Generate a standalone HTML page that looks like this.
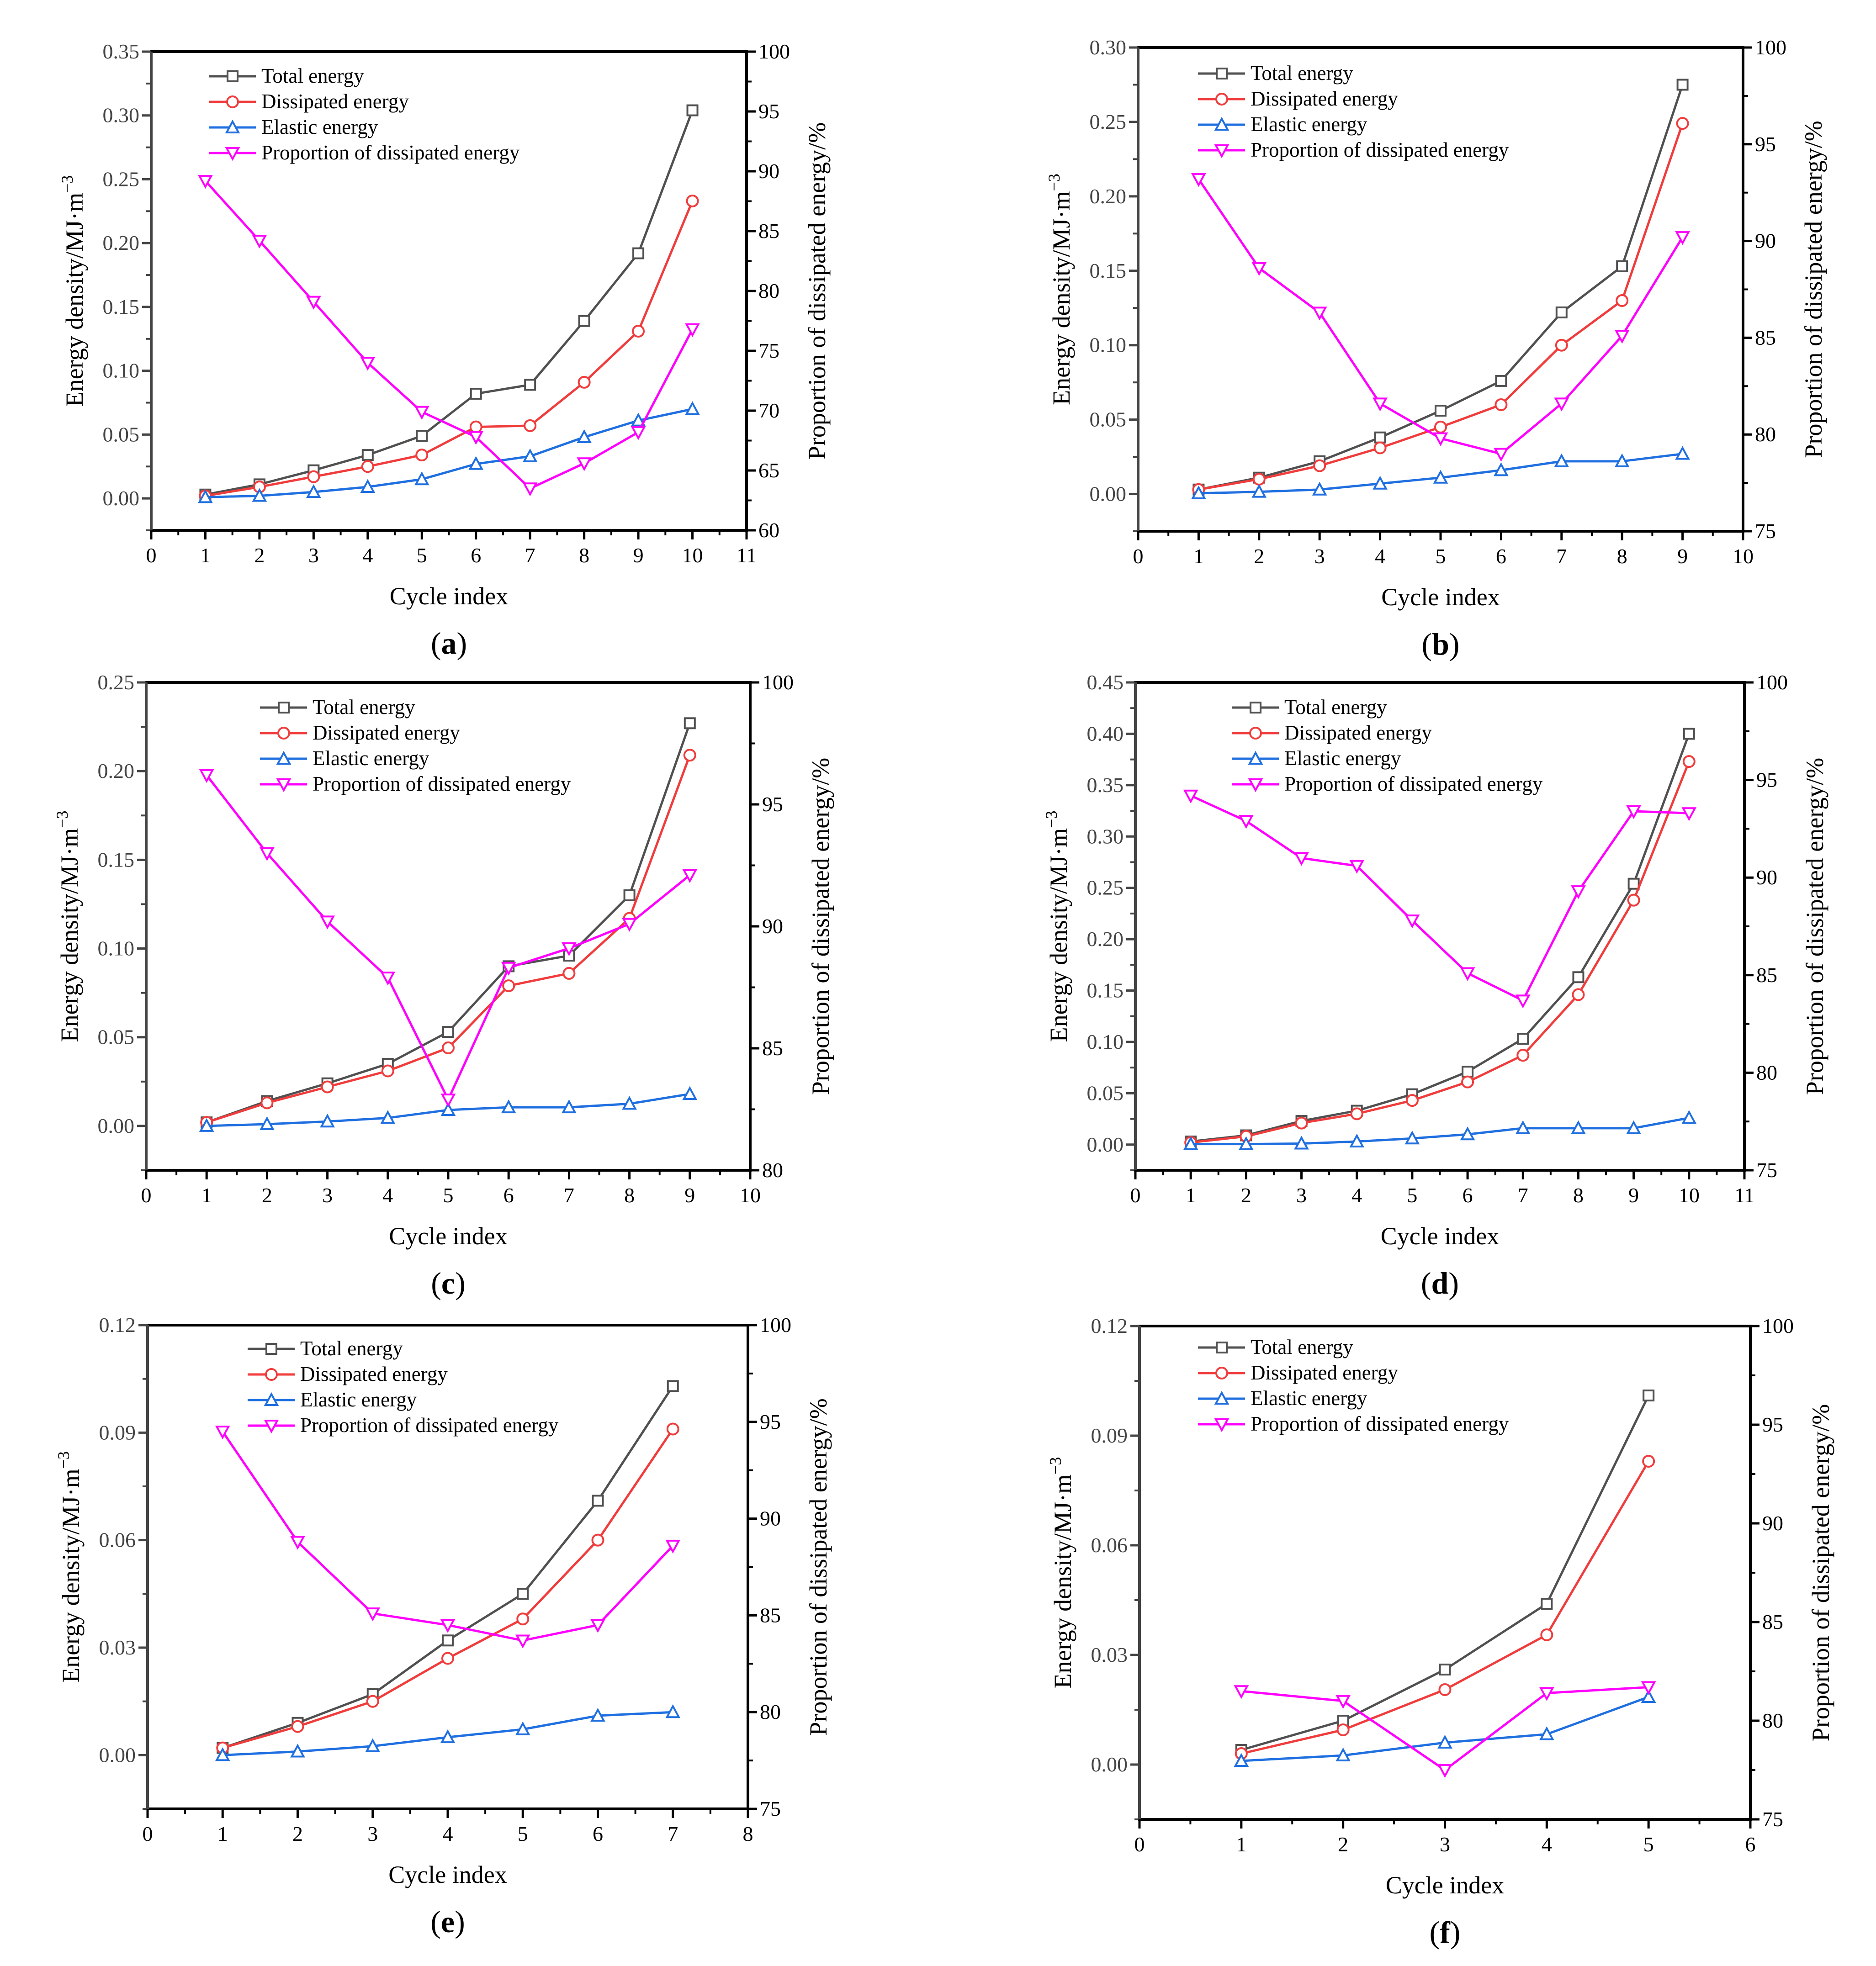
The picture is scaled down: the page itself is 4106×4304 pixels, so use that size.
<!DOCTYPE html>
<html><head><meta charset="utf-8">
<style>
html,body{margin:0;padding:0;background:#fff;}
svg{display:block;}
text,tspan{font-family:"Liberation Serif",serif;}
</style></head>
<body>
<svg id="fig" width="4106" height="4304" viewBox="0 0 4106 4304" xmlns="http://www.w3.org/2000/svg" font-family="Liberation Serif, serif"></svg>
<script>
// ---- data (panel a) ----
const cyclesA = [1,2,3,4,5,6,7,8,9,10];
const totalA = [0.003,0.011,0.022,0.034,0.049,0.082,0.089,0.139,0.192,0.304];
const dissA = [0.002,0.009,0.017,0.025,0.034,0.056,0.057,0.091,0.131,0.233];
const elasA = [0.001,0.002,0.005,0.009,0.015,0.027,0.033,0.048,0.061,0.070];
const propA = [89.2,84.2,79.1,74.0,69.9,67.8,63.5,65.6,68.2,76.8];
const yTicksA = ['0.00','0.05','0.10','0.15','0.20','0.25','0.30','0.35'];
const rTicksA = ['60','65','70','75','80','85','90','95','100'];
// ---- panel b ----
const cyclesB = [1,2,3,4,5,6,7,8,9];
const totalB = [0.003,0.011,0.022,0.038,0.056,0.076,0.122,0.153,0.275];
const dissB = [0.003,0.010,0.019,0.031,0.045,0.060,0.100,0.130,0.249];
const elasB = [0.0005,0.0015,0.003,0.007,0.011,0.016,0.022,0.022,0.027];
const propB = [93.2,88.6,86.3,81.6,79.8,79.0,81.6,85.1,90.2];
const yTicksB = ['0.00','0.05','0.10','0.15','0.20','0.25','0.30'];
const rTicksB = ['75','80','85','90','95','100'];
// ---- panel c ----
const cyclesC = [1,2,3,4,5,6,7,8,9];
const totalC = [0.002,0.014,0.024,0.035,0.053,0.090,0.096,0.130,0.227];
const dissC = [0.002,0.013,0.022,0.031,0.044,0.079,0.086,0.117,0.209];
const elasC = [0.0,0.001,0.0025,0.0045,0.009,0.0105,0.0105,0.0125,0.018];
const propC = [96.2,93.0,90.2,87.9,82.9,88.3,89.1,90.1,92.1];
const yTicksC = ['0.00','0.05','0.10','0.15','0.20','0.25'];
const rTicksC = ['80','85','90','95','100'];
// ---- panel d ----
const cyclesD = [1,2,3,4,5,6,7,8,9,10];
const totalD = [0.003,0.009,0.023,0.033,0.049,0.071,0.103,0.163,0.254,0.400];
const dissD = [0.002,0.008,0.021,0.030,0.043,0.061,0.087,0.146,0.238,0.373];
const elasD = [0.0005,0.0005,0.001,0.003,0.006,0.010,0.016,0.016,0.016,0.026];
const propD = [94.2,92.9,91.0,90.6,87.8,85.1,83.7,89.3,93.4,93.3];
const yTicksD = ['0.00','0.05','0.10','0.15','0.20','0.25','0.30','0.35','0.40','0.45'];
const rTicksD = ['75','80','85','90','95','100'];
// ---- panel e ----
const cyclesE = [1,2,3,4,5,6,7];
const totalE = [0.002,0.009,0.017,0.032,0.045,0.071,0.103];
const dissE = [0.002,0.008,0.015,0.027,0.038,0.060,0.091];
const elasE = [0.0,0.001,0.0025,0.005,0.0072,0.011,0.012];
const propE = [94.5,88.8,85.1,84.5,83.7,84.5,88.6];
const yTicksE = ['0.00','0.03','0.06','0.09','0.12'];
const rTicksE = ['75','80','85','90','95','100'];
// ---- panel f ----
const cyclesF = [1,2,3,4,5];
const totalF = [0.004,0.012,0.026,0.044,0.101];
const dissF = [0.003,0.0095,0.0205,0.0355,0.083];
const elasF = [0.001,0.0025,0.006,0.0083,0.0185];
const propF = [81.5,81.0,77.5,81.4,81.7];
const yTicksF = ['0.00','0.03','0.06','0.09','0.12'];
const rTicksF = ['75','80','85','90','95','100'];

const NS='http://www.w3.org/2000/svg';
const svg=document.getElementById('fig');
const FF='Liberation Serif, serif';
function mk(tag,attrs,parent){const e=document.createElementNS(NS,tag);for(const k in attrs)e.setAttribute(k,attrs[k]);if(tag==='text')e.setAttribute('font-family',FF);(parent||svg).appendChild(e);return e;}

const COLORS={total:'#505050',diss:'#f03c3c',elas:'#1f6fe0',prop:'#ff00ff'};

function marker(g,type,x,y,color){
  const s=11;let m;
  if(type==='sq') m=mk('rect',{x:x-s,y:y-s,width:2*s,height:2*s,fill:'#fff',stroke:color,'stroke-width':4},g);
  else if(type==='ci') m=mk('circle',{cx:x,cy:y,r:s+1,fill:'#fff',stroke:color,'stroke-width':4},g);
  else if(type==='up') m=mk('polygon',{points:`${x},${y-s-2} ${x+s+2},${y+s} ${x-s-2},${y+s}`,fill:'#fff',stroke:color,'stroke-width':4},g);
  else m=mk('polygon',{points:`${x},${y+s+2} ${x+s+2},${y-s} ${x-s-2},${y-s}`,fill:'#fff',stroke:color,'stroke-width':4},g);
  
  
}

function panel(p){
  const g=mk('g',{});
  
  
  const {L,R,T,B}=p;
  const X=v=>L+(v-0)/(p.xmax)*(R-L);
  const yTickVals=p.yTicks.map(Number);
  const ymax=yTickVals[yTickVals.length-1];
  const Y=v=>B-(v-p.ymin)/(ymax-p.ymin)*(B-T);
  const rv=p.rTicks.map(Number);
  const rmin=rv[0],rmax=rv[rv.length-1];
  const YR=v=>B-(v-rmin)/(rmax-rmin)*(B-T);
  const fs=46;
  const fr=mk('rect',{x:L,y:T,width:R-L,height:B-T,fill:'none',stroke:'#000','stroke-width':6},g);
  
  mk('line',{x1:L,y1:T,x2:L,y2:B,stroke:'#444','stroke-width':6},g);
  const step=yTickVals[1]-yTickVals[0];
  for(let i=0;i<yTickVals.length;i++){
    const y=Y(yTickVals[i]);
    mk('line',{x1:L-20,y1:y,x2:L,y2:y,stroke:'#444','stroke-width':5},g);
    const t=mk('text',{x:L-26,y:y+15,'text-anchor':'end','font-size':fs,fill:'#444'},g);t.textContent=p.yTicks[i];
    
    const ym=Y(yTickVals[i]-step/2);
    if(ym<=B+1) mk('line',{x1:L-11,y1:ym,x2:L,y2:ym,stroke:'#444','stroke-width':4},g);
  }
  for(let i=0;i<rv.length;i++){
    const y=YR(rv[i]);
    mk('line',{x1:R,y1:y,x2:R+20,y2:y,stroke:'#000','stroke-width':5},g);
    const t=mk('text',{x:R+26,y:y+15,'font-size':fs,fill:'#000'},g);t.textContent=p.rTicks[i];
    
    if(i>0) mk('line',{x1:R,y1:YR(rv[i]-2.5),x2:R+11,y2:YR(rv[i]-2.5),stroke:'#000','stroke-width':4},g);
  }
  for(let v=0;v<=p.xmax;v++){
    const x=X(v);
    mk('line',{x1:x,y1:B,x2:x,y2:B+20,stroke:'#000','stroke-width':5},g);
    const t=mk('text',{x:x,y:B+70,'text-anchor':'middle','font-size':fs,fill:'#000'},g);t.textContent=v;
    
    if(v<p.xmax) mk('line',{x1:X(v+0.5),y1:B,x2:X(v+0.5),y2:B+11,stroke:'#000','stroke-width':4},g);
  }
  const xt=mk('text',{x:(L+R)/2,y:B+162,'text-anchor':'middle','font-size':54},g);xt.textContent='Cycle index';
  
  const cy=(T+B)/2;
  const yt=mk('text',{x:0,y:0,'text-anchor':'middle','font-size':54,transform:`translate(${L-150},${cy}) rotate(-90)`},g);
  yt.innerHTML='Energy density/MJ·m<tspan dy="-22" font-size="36" font-family="Liberation Serif, serif">−3</tspan>';
  
  const rt=mk('text',{x:0,y:0,'text-anchor':'middle','font-size':54,transform:`translate(${R+172},${cy}) rotate(-90)`},g);
  rt.textContent='Proportion of dissipated energy/%';
  
  const pl=mk('text',{x:(L+R)/2,y:B+270,'text-anchor':'middle','font-size':68},g);
  pl.innerHTML='(<tspan font-weight="bold" font-family="Liberation Serif, serif">'+p.id+'</tspan>)';
  
  const series=[
    {vals:p.total,c:COLORS.total,m:'sq',s:Y,name:'Total energy',k:'total-energy-line'},
    {vals:p.diss,c:COLORS.diss,m:'ci',s:Y,name:'Dissipated energy',k:'dissipated-energy-line'},
    {vals:p.elas,c:COLORS.elas,m:'up',s:Y,name:'Elastic energy',k:'elastic-energy-line'},
    {vals:p.prop,c:COLORS.prop,m:'dn',s:YR,name:'Proportion of dissipated energy',k:'proportion-line'}
  ];
  series.forEach((se,si)=>{
    const pts=se.vals.map((v,i)=>X(p.cycles[i])+','+se.s(v)).join(' ');
    const pl=mk('polyline',{points:pts,fill:'none',stroke:se.c,'stroke-width':5,'stroke-linejoin':'round'},g);
    
    se.vals.forEach((v,i)=>marker(g,se.m,X(p.cycles[i]),se.s(v),se.c));
    const ly=T+p.legY+si*56;
    const lx=L+p.legX;
    const lg=mk('g',{},g);
    
    mk('line',{x1:lx,y1:ly,x2:lx+103,y2:ly,stroke:se.c,'stroke-width':5},lg);
    marker(lg,se.m,lx+52,ly,se.c);
    const t=mk('text',{x:lx+115,y:ly+14,'font-size':45},lg);t.textContent=se.name;
  });
}

panel({id:'a',L:331,R:1634,T:113,B:1161,xmax:11,ymin:-0.025,yTicks:yTicksA,rTicks:rTicksA,cycles:cyclesA,total:totalA,diss:dissA,elas:elasA,prop:propA,legX:126,legY:54});
panel({id:'b',L:2491,R:3815,T:104,B:1163,xmax:10,ymin:-0.025,yTicks:yTicksB,rTicks:rTicksB,cycles:cyclesB,total:totalB,diss:dissB,elas:elasB,prop:propB,legX:131,legY:57});
panel({id:'c',L:320,R:1642,T:1494,B:2562,xmax:10,ymin:-0.025,yTicks:yTicksC,rTicks:rTicksC,cycles:cyclesC,total:totalC,diss:dissC,elas:elasC,prop:propC,legX:249,legY:55});
panel({id:'d',L:2485,R:3818,T:1494,B:2562,xmax:11,ymin:-0.025,yTicks:yTicksD,rTicks:rTicksD,cycles:cyclesD,total:totalD,diss:dissD,elas:elasD,prop:propD,legX:211,legY:55});
panel({id:'e',L:323,R:1637,T:2901,B:3960,xmax:8,ymin:-0.015,yTicks:yTicksE,rTicks:rTicksE,cycles:cyclesE,total:totalE,diss:dissE,elas:elasE,prop:propE,legX:219,legY:52});
panel({id:'f',L:2494,R:3831,T:2903,B:3983,xmax:6,ymin:-0.015,yTicks:yTicksF,rTicks:rTicksF,cycles:cyclesF,total:totalF,diss:dissF,elas:elasF,prop:propF,legX:128,legY:47});
</script>
</body></html>
